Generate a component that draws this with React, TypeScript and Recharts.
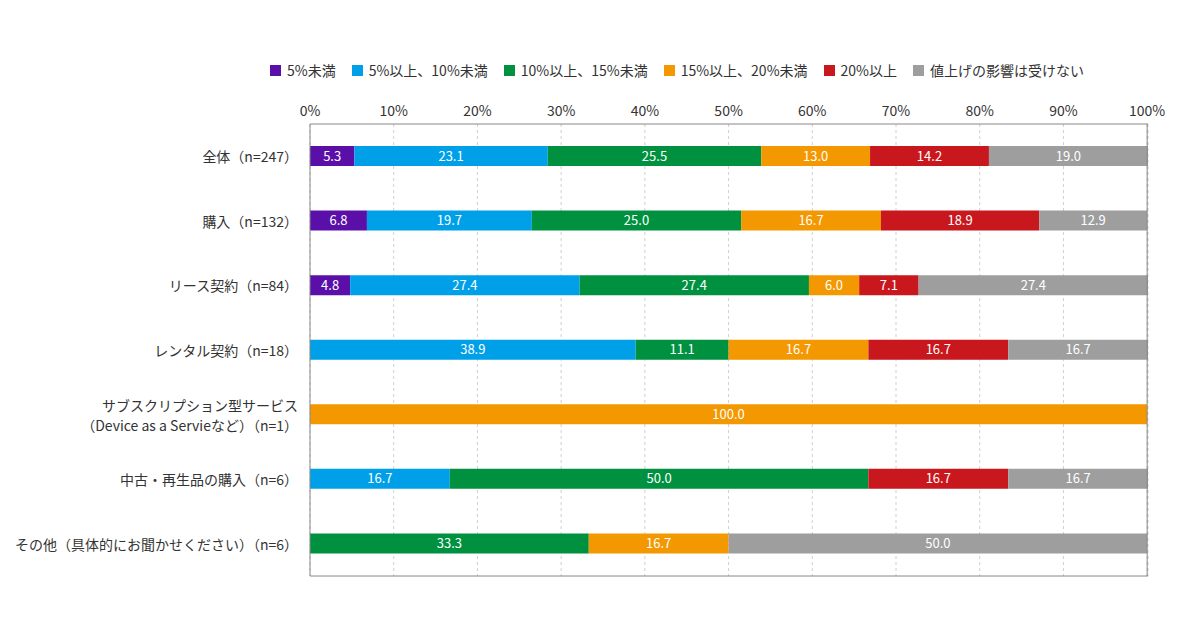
import { BarChart, Bar, XAxis, YAxis, CartesianGrid, Legend, LabelList, ReferenceLine } from "recharts"

const categories = [
  "全体（n=247）",
  "購入（n=132）",
  "リース契約（n=84）",
  "レンタル契約（n=18）",
  "サブスクリプション型サービス\n（Device as a Servieなど）（n=1）",
  "中古・再生品の購入（n=6）",
  "その他（具体的にお聞かせください）（n=6）",
]
const s1 = [5.3, 6.8, 4.8, null, null, null, null]
const s2 = [23.1, 19.7, 27.4, 38.9, null, 16.7, null]
const s3 = [25.5, 25.0, 27.4, 11.1, null, 50.0, 33.3]
const s4 = [13.0, 16.7, 6.0, 16.7, 100.0, null, 16.7]
const s5 = [14.2, 18.9, 7.1, 16.7, null, 16.7, null]
const s6 = [19.0, 12.9, 27.4, 16.7, null, 16.7, 50.0]
const seriesNames = ["5%未満", "5%以上、10%未満", "10%以上、15%未満", "15%以上、20%未満", "20%以上", "値上げの影響は受けない"]
const colors = ["#5a10a8", "#00a0e9", "#009140", "#f39800", "#c9171e", "#9e9e9e"]
const ticks = [0, 10, 20, 30, 40, 50, 60, 70, 80, 90, 100]

const series = [s1, s2, s3, s4, s5, s6]
const data = categories.map((name, i) => {
  const row: Record<string, any> = { name }
  series.forEach((s, j) => (row["s" + j] = s[i]))
  return row
})

const font = "'Noto Sans CJK JP', 'Noto Sans', sans-serif"

function CatTick({ x, y, payload }: any) {
  const lines = String(payload.value).split("\n")
  const start = y - ((lines.length - 1) * 20) / 2
  return (
    <text x={x - 4} y={start} textAnchor="end" fontSize={14} fill="#333" fontFamily={font} dominantBaseline="central">
      {lines.map((l, i) => (
        <tspan key={i} x={x - 4} y={start + i * 20}>{l}</tspan>
      ))}
    </text>
  )
}

function LegendBox() {
  return (
    <div style={{ display: "flex", gap: 16, fontSize: 14, color: "#333", fontFamily: font }}>
      {seriesNames.map((n, i) => (
        <div key={n} style={{ display: "flex", alignItems: "center", gap: 6 }}>
          <span style={{ width: 11, height: 11, background: colors[i], display: "inline-block" }} />
          {n}
        </div>
      ))}
    </div>
  )
}

export default function App() {
  return (
    <div style={{ position: "absolute", left: 0, top: 0, fontFamily: font }}>
      <BarChart
        width={1200}
        height={632}
        data={data}
        layout="vertical"
        barSize={20}
        margin={{ top: 74, right: 52, bottom: 55, left: 10 }}
      >
        <CartesianGrid horizontal={false} strokeDasharray="3 3" stroke="#d0d0d0" />
        <XAxis
          type="number"
          orientation="top"
          domain={[0, 100]}
          ticks={ticks}
          tickFormatter={(v) => `${v}%`}
          tickLine={false}
          axisLine={{ stroke: "#888" }}
          tick={{ fontSize: 14, fill: "#333", fontFamily: font }}
          height={30}
        />
        <XAxis xAxisId="b" type="number" orientation="bottom" domain={[0, 100]} tick={false} tickLine={false} axisLine={{ stroke: "#888" }} height={1} />
        <YAxis
          type="category"
          dataKey="name"
          width={300}
          tickLine={false}
          axisLine={{ stroke: "#888" }}
          tick={<CatTick />}
          interval={0}
        />
        <ReferenceLine x={100} stroke="#888" />
        <Legend verticalAlign="top" content={<LegendBox />} wrapperStyle={{ top: 60, left: 270, width: "auto" }} />
        {series.map((_, j) => (
          <Bar key={j} dataKey={"s" + j} stackId="a" fill={colors[j]} name={seriesNames[j]} isAnimationActive={false}>
            <LabelList
              dataKey={"s" + j}
              position="center"
              fill="#fff"
              fontSize={13}
              formatter={(v: any) => (v == null ? "" : Number(v).toFixed(1))}
            />
          </Bar>
        ))}
      </BarChart>
    </div>
  )
}
